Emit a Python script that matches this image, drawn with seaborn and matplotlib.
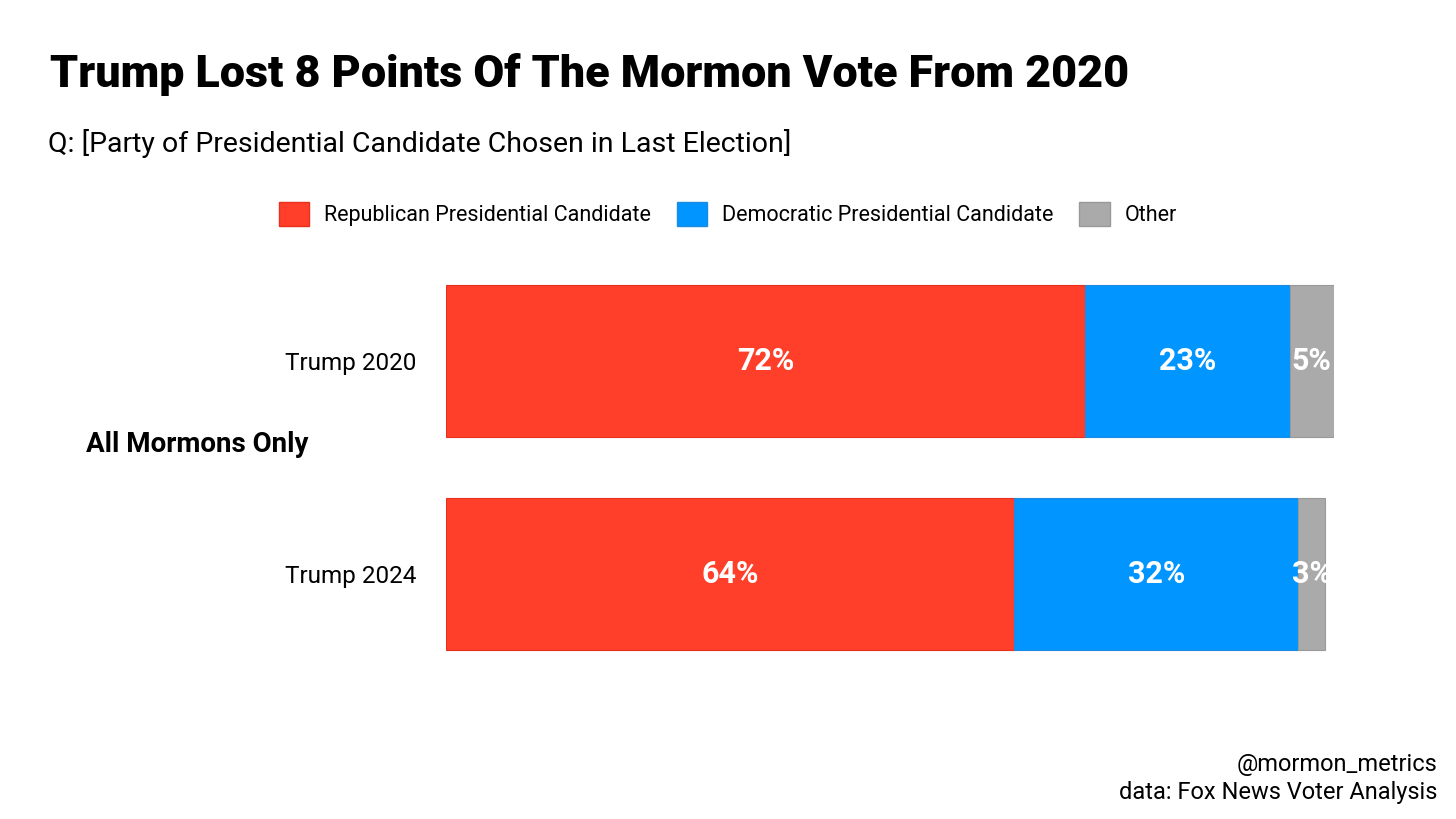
import numpy as np
import pandas as pd
import matplotlib
matplotlib.use("Agg")
import matplotlib.pyplot as plt
import seaborn as sns
from matplotlib.patches import Patch

# Data
groups = ['Trump 2020', 'Trump 2024']
parties = ['Republican Presidential Candidate', 'Democratic Presidential Candidate', 'Other']
republican = [72, 64]
democratic = [23, 32]
other = [5, 3]
colors = ['#FF3F2A', '#0095FF', '#AAAAAA']
edge_colors = ['#E8301C', '#1E8BE0', '#999999']

df = pd.DataFrame({'group': groups, parties[0]: republican,
                   parties[1]: democratic, parties[2]: other})

sns.set_theme(style='white')
plt.rcParams['font.family'] = ['Roboto', 'DejaVu Sans']
plt.rcParams['text.color'] = 'black'
plt.rcParams['ytick.color'] = 'black'

fig = plt.figure(figsize=(14.56, 8.19), dpi=100)
ax = fig.add_axes([446 / 1456, 1 - 680 / 819, 888 / 1456, 425 / 819])

left = np.zeros(len(groups))
for i, p in enumerate(parties):
    vals = df[p].values
    bars = ax.barh(df['group'], vals, left=left, height=0.714,
                   color=colors[i], edgecolor=edge_colors[i], linewidth=0.8)
    for b, v, l in zip(bars, vals, left):
        t = ax.text(l + v / 2, b.get_y() + b.get_height() / 2, f'{v}%',
                    ha='center', va='center', color='white',
                    fontsize=22, fontweight='bold')
        t.set_clip_path(b)
    left += vals

ax.set_xlim(0, 100)
ax.set_ylim(1.5, -0.5)
ax.set_xticks([])
ax.tick_params(axis='y', length=0, pad=21, labelsize=17.5, labelcolor='black')
for s in ax.spines.values():
    s.set_visible(False)

fig.text(50 / 1456, 1 - 75 / 819, 'Trump Lost 8 Points Of The Mormon Vote From 2020',
         fontsize=32.3, fontweight='heavy', va='center', ha='left', color='black')
fig.text(48 / 1456, 1 - 143 / 819, 'Q: [Party of Presidential Candidate Chosen in Last Election]',
         fontsize=20.5, va='center', ha='left', color='black')
fig.text(86 / 1456, 1 - 445 / 819, 'All Mormons Only',
         fontsize=20, fontweight='bold', va='center', ha='left', color='black')

handles = [Patch(facecolor=c, edgecolor=e) for c, e in zip(colors, edge_colors)]
fig.legend(handles, parties, loc='center', bbox_to_anchor=(728 / 1456, 1 - 214 / 819),
           ncol=3, frameon=False, fontsize=15.5, handlelength=1.4, handleheight=1.4,
           columnspacing=1.2, handletextpad=0.7, labelcolor='black')

fig.text(1437 / 1456, 1 - 765 / 819, '@mormon_metrics', fontsize=17, ha='right',
         va='center', color='black')
fig.text(1437 / 1456, 1 - 793 / 819, 'data: Fox News Voter Analysis', fontsize=17,
         ha='right', va='center', color='black')

fig.savefig('out.png', dpi=100)
